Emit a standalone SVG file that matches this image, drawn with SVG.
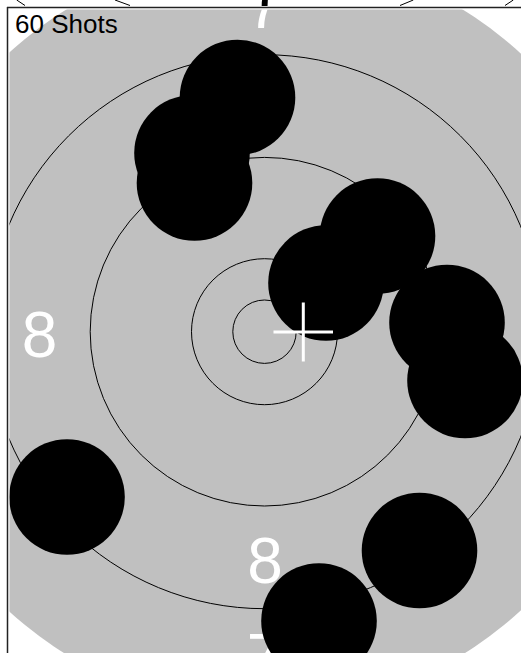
<svg xmlns="http://www.w3.org/2000/svg" width="521" height="653" viewBox="0 0 521 653">
  <defs>
    <clipPath id="plot"><rect x="9.5" y="9.5" width="520" height="650"/></clipPath>
    <clipPath id="above"><rect x="0" y="0" width="521" height="7"/></clipPath>
    <style>
      .ring { fill: none; stroke: #000; stroke-width: 1; }
      .shot { fill: #000; }
      .num { font-family: "Liberation Sans", Arial, sans-serif; font-size: 64px; text-anchor: middle; }
      .tick { stroke: #000; stroke-width: 1; fill: none; }
      .frame { stroke: #222; stroke-width: 1.5; fill: none; }
      .cross { stroke: #fff; stroke-width: 3; }
    </style>
  </defs>
  <rect width="521" height="653" fill="#fff"/>
  <g id="above-frame" clip-path="url(#above)">
    <line class="tick" x1="16.7" y1="0" x2="25" y2="5.5"/>
    <line class="tick" x1="115" y1="0" x2="130" y2="5.5"/>
    <line class="tick" x1="400" y1="5.5" x2="413.3" y2="0"/>
    <line class="tick" x1="505" y1="5.5" x2="513.3" y2="0"/>
    <text class="num" x="268" y="6" fill="#000">7</text>
  </g>
  <g id="target" clip-path="url(#plot)">
    <circle id="black-area" cx="264.5" cy="332" r="378.5" fill="#c0c0c0"/>
    <g id="rings">
      <circle class="ring" cx="264.5" cy="331.7" r="31.7"/>
      <circle class="ring" cx="264.5" cy="331.7" r="73"/>
      <circle class="ring" cx="264.5" cy="331.7" r="174.3"/>
      <circle class="ring" cx="264.5" cy="331.7" r="277"/>
    </g>
    <g id="ring-numbers" fill="#fff">
      <text class="num" x="39.5" y="357">8</text>
      <text class="num" x="265" y="583">8</text>
      <text class="num" x="264.5" y="106">8</text>
      <text class="num" x="264.5" y="28.3">7</text>
      <text class="num" x="264.5" y="679">7</text>
    </g>
    <g id="shots">
      <circle class="shot" cx="237.5" cy="97.5" r="57.8"/>
      <circle class="shot" cx="192" cy="153" r="57.8"/>
      <circle class="shot" cx="194.5" cy="183" r="57.8"/>
      <circle class="shot" cx="377.5" cy="236" r="57.8"/>
      <circle class="shot" cx="326" cy="283" r="57.8"/>
      <circle class="shot" cx="447" cy="322.5" r="57.8"/>
      <circle class="shot" cx="465" cy="380.5" r="57.8"/>
      <circle class="shot" cx="67" cy="497" r="57.8"/>
      <circle class="shot" cx="419.5" cy="550.5" r="57.8"/>
      <circle class="shot" cx="319" cy="621" r="57.8"/>
    </g>
    <g id="mean-point">
      <line class="cross" x1="273.5" y1="332" x2="333" y2="332"/>
      <line class="cross" x1="303.3" y1="302.5" x2="303.3" y2="361.5"/>
    </g>
    <text id="title" x="15" y="33.3" font-family="Liberation Sans, Arial, sans-serif" font-size="26" fill="#000">60 Shots</text>
  </g>
  <g id="frame">
    <line class="frame" x1="7" y1="7.5" x2="521" y2="7.5"/>
    <line class="frame" x1="7.5" y1="7" x2="7.5" y2="653"/>
  </g>
</svg>
